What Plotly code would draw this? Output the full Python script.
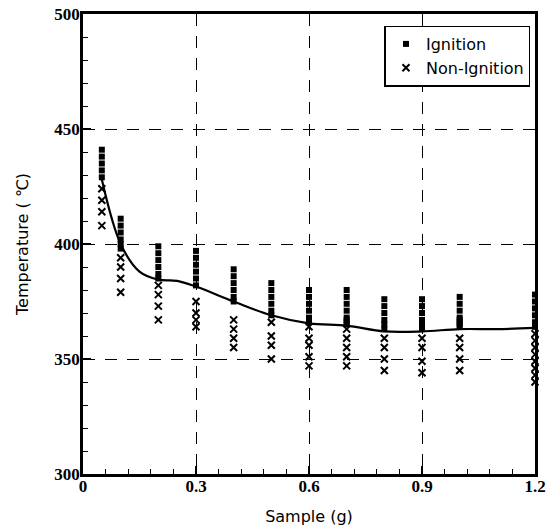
import plotly.graph_objects as go

# Sample masses tested (g)
sample_mass = [0.05, 0.1, 0.2, 0.3, 0.4, 0.5, 0.6, 0.7, 0.8, 0.9, 1.0, 1.2]

# Ignition temperatures (deg C) per sample mass
ign_005 = [441, 438, 435, 432, 429]
ign_010 = [411, 408, 405, 402, 400, 398]
ign_020 = [399, 396, 393, 390, 387, 385]
ign_030 = [397, 394, 391, 388, 385, 382]
ign_040 = [389, 386, 383, 380, 377, 375]
ign_050 = [383, 380, 377, 374, 371, 369]
ign_060 = [380, 377, 374, 371, 368, 366]
ign_070 = [380, 377, 374, 371, 368, 367, 366, 365]
ign_080 = [376, 373, 370, 367, 365, 363]
ign_090 = [376, 373, 370, 367, 365, 363]
ign_100 = [377, 374, 371, 368, 367, 366, 365, 364]
ign_120 = [378, 375, 372, 369, 366, 364]

# Non-ignition temperatures (deg C) per sample mass
non_005 = [424, 419, 414, 408]
non_010 = [394, 390, 385, 379]
non_020 = [382, 378, 373, 367]
non_030 = [375, 370, 367, 364]
non_040 = [367, 363, 359, 355]
non_050 = [366, 360, 356, 350]
non_060 = [364, 359, 356, 351, 347]
non_070 = [363, 359, 355, 351, 347]
non_080 = [359, 355, 350, 345]
non_090 = [359, 355, 349, 344]
non_100 = [359, 355, 350, 345]
non_120 = [361, 358, 355, 352, 349, 346, 343, 340]

# Boundary curve between ignition and non-ignition
fit_mass = [0.05, 0.1, 0.15, 0.2, 0.25, 0.3, 0.4, 0.5, 0.6, 0.7, 0.8, 0.9, 1.0, 1.1, 1.2]
fit_temp = [428, 400, 388, 384.5, 384, 381.5, 375, 369, 365.5, 364.5, 362, 362, 363, 363, 363.5]

x_ticks = [0, 0.3, 0.6, 0.9, 1.2]
x_tick_text = ["0", "0.3", "0.6", "0.9", "1.2"]
y_ticks = [300, 350, 400, 450, 500]

ign_cols = [ign_005, ign_010, ign_020, ign_030, ign_040, ign_050,
            ign_060, ign_070, ign_080, ign_090, ign_100, ign_120]
non_cols = [non_005, non_010, non_020, non_030, non_040, non_050,
            non_060, non_070, non_080, non_090, non_100, non_120]

ign_x, ign_y, non_x, non_y = [], [], [], []
for m, col in zip(sample_mass, ign_cols):
    ign_x += [m] * len(col)
    ign_y += col
for m, col in zip(sample_mass, non_cols):
    non_x += [m] * len(col)
    non_y += col

fig = go.Figure()

fig.add_trace(go.Scatter(
    x=fit_mass, y=fit_temp, mode="lines",
    line=dict(color="black", width=2.2, shape="spline", smoothing=1.0),
    showlegend=False, hoverinfo="skip", cliponaxis=False,
))
fig.add_trace(go.Scatter(
    x=ign_x, y=ign_y, mode="markers", name="Ignition",
    marker=dict(symbol="square", size=6, color="black"),
    cliponaxis=False,
))
fig.add_trace(go.Scatter(
    x=non_x, y=non_y, mode="markers", name="Non-Ignition",
    marker=dict(symbol="x-thin", size=7, line=dict(color="black", width=2)),
    cliponaxis=False,
))

tick_font = dict(family="Liberation Serif", size=17, color="black", weight="bold")
title_font = dict(family="DejaVu Sans", size=16, color="black")

fig.update_xaxes(
    range=[0, 1.2], tickvals=x_ticks, ticktext=x_tick_text,
    ticks="inside", ticklen=8, tickwidth=2, tickcolor="black",
    minor=dict(dtick=0.06, tick0=0, ticks="inside", ticklen=5, tickwidth=1, tickcolor="black", showgrid=False),
    showgrid=True, gridcolor="black", gridwidth=1.2, griddash="12px,10px",
    showline=True, linecolor="black", linewidth=2.5, mirror=True,
    zeroline=False, tickfont=tick_font, automargin=False, ticklabelstandoff=-5,
    title=dict(text="Sample (g)", font=title_font, standoff=16),
)
fig.update_yaxes(
    range=[300, 500], tickvals=y_ticks,
    ticks="inside", ticklen=8, tickwidth=2, tickcolor="black",
    minor=dict(dtick=10, tick0=300, ticks="inside", ticklen=5, tickwidth=1, tickcolor="black", showgrid=False),
    showgrid=True, gridcolor="black", gridwidth=1.2, griddash="12px,10px",
    showline=True, linecolor="black", linewidth=2.5, mirror=True,
    zeroline=False, tickfont=tick_font, automargin=False, ticklabelstandoff=-3,
    title=dict(text="Temperature ( \u2103)", font=title_font, standoff=22),
)

fig.update_layout(
    width=548, height=530,
    margin=dict(l=83, r=13, t=14, b=56, autoexpand=False),
    paper_bgcolor="white", plot_bgcolor="white",
    legend=dict(
        x=0.99, y=0.975, xanchor="right", yanchor="top",
        bgcolor="white", bordercolor="black", borderwidth=1.5,
        font=dict(family="DejaVu Sans", size=16, color="black"),
        itemwidth=30, tracegroupgap=0,
    ),
)

fig.write_html("out.html")
